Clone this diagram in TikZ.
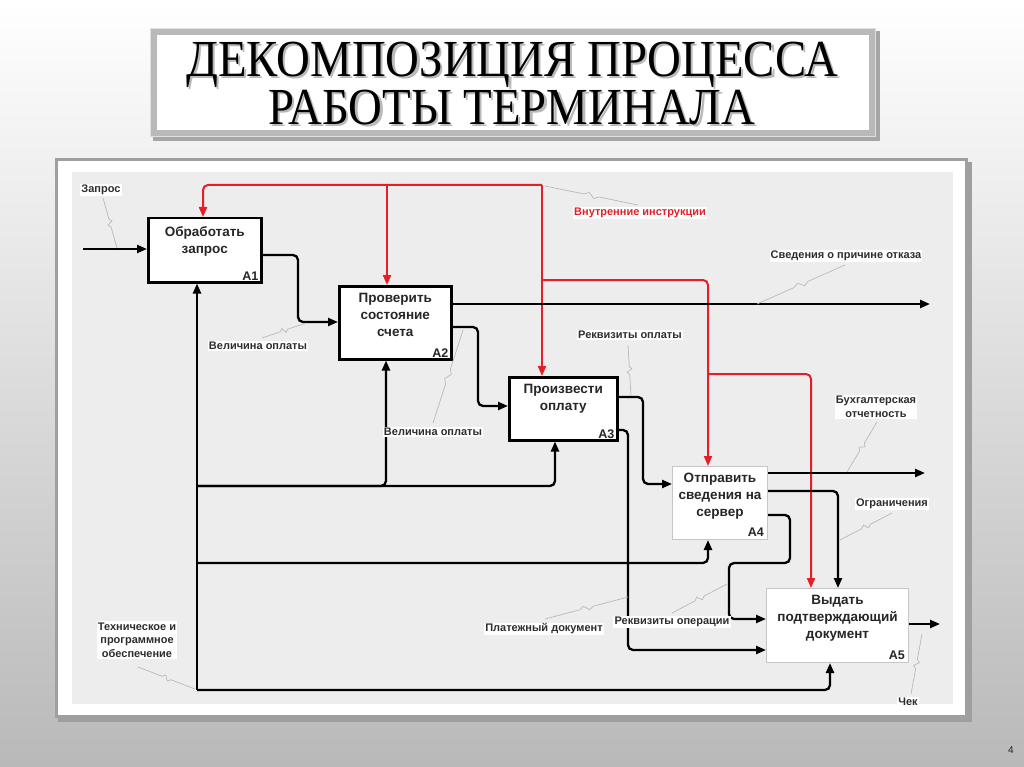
\documentclass[tikz,border=0pt]{standalone}
\usepackage{fontspec}
\setmainfont{Liberation Sans}
\newfontfamily\titlefont{Liberation Serif}
\usetikzlibrary{arrows.meta,calc}
\definecolor{idefred}{RGB}{230,30,38}
\definecolor{paneBG}{RGB}{237,237,237}
\definecolor{lbltext}{RGB}{45,45,45}
\newcommand\titlesx{0.9}
\newcommand\shtext[1]{\scalebox{\titlesx}[1]{\rlap{\textcolor{gray!55}{\raisebox{-2pt}{\kern2.5pt#1}}}#1}}
\newcommand\ldr[2]{\draw[leaderline] (#1) -- ($(#1)!0.42!(#2)$) -- ($(#1)!0.47!(#2)!2.5pt!90:(#2)$) -- ($(#1)!0.53!(#2)!2.5pt!-90:(#2)$) -- ($(#1)!0.58!(#2)$) -- (#2);}
\begin{document}
\begin{tikzpicture}[x=1pt,y=-1pt,
  flow/.style={draw=black, line width=2.3pt, -{Triangle[length=10pt,width=8pt]}, rounded corners=5pt},
  ctrl/.style={draw=idefred, line width=2pt, -{Triangle[length=10pt,width=8pt]}, rounded corners=5pt},
  strongbox/.style={draw=black, line width=2.5pt, fill=white, inner sep=0pt},
  lightbox/.style={draw=gray!45, line width=1pt, fill=white, inner sep=0pt},
  boxtext/.style={font=\bfseries\fontsize{13.5}{17}\selectfont, text=black!85, align=center, anchor=north, inner sep=0pt},
  boxnum/.style={font=\bfseries\fontsize{12.5}{12.5}\selectfont, text=black!85, anchor=south east, inner sep=0pt},
  lbl/.style={font=\bfseries\fontsize{11}{13.5}\selectfont, text=lbltext, fill=white, align=center, inner sep=1.2pt},
  leaderline/.style={draw=gray!55, line width=0.7pt},
  titletext/.style={anchor=base, inner sep=0pt, align=center, font=\titlefont\fontsize{52}{43}\selectfont}]
\useasboundingbox (0,0) rectangle (1024,767);
% slide background
\fill[top color=white, bottom color=gray!55] (0,0) rectangle (1024,767);
% title box
\fill[gray!70] (153,31) rectangle (880,141);
\fill[gray!55] (150,28) rectangle (876,137);
\draw[gray!25, line width=1pt] (150.5,28.5) rectangle (875.5,136.5);
\fill[white] (157,35) rectangle (869,130);
\node[titletext] (title) at (512,125) {\shtext{ДЕКОМПОЗИЦИЯ ПРОЦЕССА}\\\shtext{РАБОТЫ ТЕРМИНАЛА}};
% diagram frame
\fill[gray!75] (58,162) rectangle (972,722);
\fill[white] (55,158) rectangle (968,718);
\draw[gray!75, line width=3pt] (56.5,159.5) rectangle (966.5,716.5);
\fill[paneBG] (72,172) rectangle (953,704);
% boxes
\node[strongbox, minimum width=113pt, minimum height=64pt, anchor=north west] (a1) at (147,217) {};
\node[strongbox, minimum width=112pt, minimum height=73pt, anchor=north west] (a2) at (338,285) {};
\node[strongbox, minimum width=108pt, minimum height=63pt, anchor=north west] (a3) at (508,376) {};
\node[lightbox, minimum width=95pt, minimum height=73pt, anchor=north west] (a4) at (672,466) {};
\node[lightbox, minimum width=142pt, minimum height=74pt, anchor=north west] (a5) at (766,588) {};
\node[boxtext, yshift=-9pt] (t1) at (a1.north) {Обработать\\запрос};
\node[boxtext, yshift=-8pt] (t2) at (a2.north) {Проверить\\состояние\\счета};
\node[boxtext, yshift=-8pt] (t3) at (a3.north) {Произвести\\оплату};
\node[boxtext, yshift=-7pt] (t4) at (a4.north) {Отправить\\сведения на\\сервер};
\node[boxtext, yshift=-7pt] (t5) at (a5.north) {Выдать\\подтверждающий\\документ};
\node[boxnum, xshift=-4pt, yshift=3pt] (n1) at (a1.south east) {A1};
\node[boxnum, xshift=-4pt, yshift=3pt] (n2) at (a2.south east) {A2};
\node[boxnum, xshift=-4pt, yshift=3pt] (n3) at (a3.south east) {A3};
\node[boxnum, xshift=-4pt, yshift=3pt] (n4) at (a4.south east) {A4};
\node[boxnum, xshift=-4pt, yshift=3pt] (n5) at (a5.south east) {A5};
% free ends
\coordinate (inZ) at (83,249);
\coordinate (outOtkaz) at (930,304);
\coordinate (outBuh) at (925,473);
\coordinate (outChek) at (940,624);
\coordinate (mech) at (197,690);
\coordinate (rTop) at (542,185);
% control (red)
\draw[ctrl] (rTop) -| (a1.north -| 203,0);
\draw[ctrl] (387,185) -- (a2.north -| 387,0);
\draw[ctrl] (rTop) -- (a3.north -| 542,0);
\draw[ctrl] (542,280) -| (a4.north -| 708,0);
\draw[ctrl] (708,374) -| (a5.north -| 811,0);
% input
\draw[flow] (inZ) -- (a1.west |- inZ);
% A1 -> A2
\draw[flow] (a1.east |- 0,255) -| (298,322) -- (a2.west |- 0,322);
% A2 outputs
\draw[flow] (a2.east |- outOtkaz) -- (outOtkaz);
\draw[flow] (a2.east |- 0,327) -| (478,406) -- (a3.west |- 0,406);
% A3 outputs
\draw[flow] (a3.east |- 0,397) -| (643,484) -- (a4.west |- 0,484);
\draw[flow] (a3.east |- 0,430) -| (628,650) -- (a5.west |- 0,650);
% A4 outputs
\draw[flow] (a4.east |- outBuh) -- (outBuh);
\draw[flow] (a4.east |- 0,491) -| (a5.north -| 838,0);
\draw[flow] (a4.east |- 0,515) -| (790,563) -| (729,619) -- (a5.west |- 0,619);
% A5 output
\draw[flow] (a5.east |- outChek) -- (outChek);
% mechanism
\draw[flow, rounded corners=0pt] (mech) -- (mech |- a1.south);
\draw[flow] (197,486) -| (a3.south -| 555,0);
\draw[flow] (197,486) -| (a2.south -| 386,0);
\draw[flow] (197,563) -| (a4.south -| 708,0);
\draw[flow] (mech) -| (a5.south -| 830,0);
% labels
\node[lbl] (lZapros) at (101,190) {Запрос};
\node[lbl] (lVel1) at (258,346) {Величина оплаты};
\node[lbl, text=idefred] (lInstr) at (640,213) {Внутренние инструкции};
\node[lbl] (lOtkaz) at (846,256) {Сведения о причине отказа};
\node[lbl] (lVel2) at (433,432) {Величина оплаты};
\node[lbl] (lRekvOpl) at (630,335) {Реквизиты оплаты};
\node[lbl] (lBuh) at (876,407) {Бухгалтерская\\отчетность};
\node[lbl] (lOgr) at (892,504) {Ограничения};
\node[lbl] (lPlat) at (544,629) {Платежный документ};
\node[lbl] (lRekvOp) at (672,622) {Реквизиты операции};
\node[lbl] (lTech) at (137,640) {Техническое и\\программное\\обеспечение};
\node[lbl] (lChek) at (908,702) {Чек};
% leaders
\coordinate (s1) at (103,198); \coordinate (e1) at (117,248);
\coordinate (s2) at (262,338); \coordinate (e2) at (306,323);
\coordinate (s3) at (638,205); \coordinate (e3) at (545,186);
\coordinate (s4) at (845,265); \coordinate (e4) at (757,304);
\coordinate (s5) at (433,423); \coordinate (e5) at (463,330);
\coordinate (s6) at (628,345); \coordinate (e6) at (631,396);
\coordinate (s7) at (877,422); \coordinate (e7) at (847,472);
\coordinate (s8) at (892,513); \coordinate (e8) at (840,540);
\coordinate (s9) at (545,619); \coordinate (e9) at (628,597);
\coordinate (s10) at (672,613); \coordinate (e10) at (727,584);
\coordinate (s11) at (138,667); \coordinate (e11) at (195,689);
\coordinate (s12) at (911,694); \coordinate (e12) at (922,634);
\ldr{s1}{e1}\ldr{s2}{e2}\ldr{s3}{e3}\ldr{s4}{e4}\ldr{s5}{e5}\ldr{s6}{e6}
\ldr{s7}{e7}\ldr{s8}{e8}\ldr{s9}{e9}\ldr{s10}{e10}\ldr{s11}{e11}\ldr{s12}{e12}
% page number
\node[font=\fontsize{10}{10}\selectfont, text=black!85] (pnum) at (1011,750) {4};
\end{tikzpicture}
\end{document}
